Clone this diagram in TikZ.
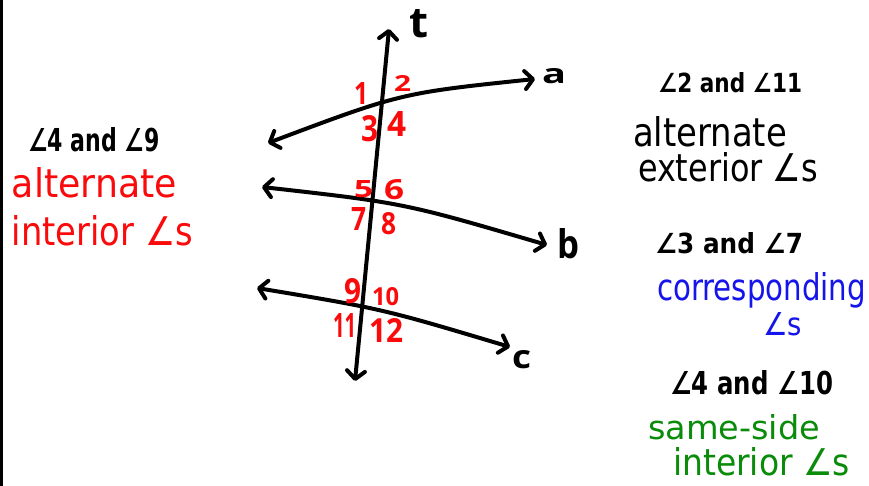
\documentclass[tikz,border=0pt]{standalone}
\usepackage{fontspec}
\setmainfont{DejaVu Sans}
\newfontfamily\digf{Open Sans}
\usepackage{graphicx}
\usetikzlibrary{arrows.meta}
\definecolor{penred}{RGB}{250,10,10}
\definecolor{penblue}{RGB}{20,20,235}
\definecolor{pengreen}{RGB}{10,140,10}
\newcommand\fitbox[3]{\resizebox{#1pt}{#2pt}{#3}}
\begin{document}
\begin{tikzpicture}[x=1pt,y=-1pt,
  ln/.style={line width=4pt, line cap=round, line join=round, black},
  dbl/.style={ln, {Straight Barb[length=8pt,width=18pt,round]}-{Straight Barb[length=8pt,width=18pt,round]}},
  txt/.style={inner sep=0pt, outer sep=0pt, anchor=base west},
  num/.style={txt, text=penred, font=\digf\bfseries},
  head/.style={txt, font=\bfseries},
  lbl/.style={txt, font=\digf\bfseries}]
\useasboundingbox (0,0) rectangle (869,486);
\fill[white] (0,0) rectangle (869,486);
\draw[line width=3pt] (1.5,0) -- (1.5,486);

% transversal and parallel lines
\coordinate (tB) at (355,381);
\coordinate (tT) at (389,29);
\coordinate (aL) at (268,143);
\coordinate (aR) at (535,79);
\coordinate (aK) at (401,93);
\coordinate (bL) at (262,187);
\coordinate (bR) at (547,245);
\coordinate (bK) at (404,203);
\coordinate (cL) at (257,288);
\coordinate (cR) at (510,347);
\coordinate (cK) at (383,309);
\draw[dbl] (tB) -- (tT);
\draw[dbl] (aL) .. controls (aK) .. (aR);
\draw[dbl] (bL) .. controls (bK) .. (bR);
\draw[dbl] (cL) .. controls (cK) .. (cR);

% line labels
\node[lbl] (lt) at (409,38) {\fitbox{19}{28}{t}};
\node[lbl] (la) at (542,84) {\fitbox{24}{15}{a}};
\node[lbl] (lb) at (557,258) {\fitbox{22}{30}{b}};
\node[lbl] (lc) at (512,368) {\fitbox{19}{18}{c}};

% angle numbers
\node[num] (n1) at (354,105) {\fitbox{14}{22}{1}};
\node[num] (n2) at (394,92) {\fitbox{17}{16}{2}};
\node[num] (n3) at (361,142) {\fitbox{17}{26}{3}};
\node[num] (n4) at (387,137) {\fitbox{19}{25}{4}};
\node[num] (n5) at (354,198) {\fitbox{19}{17}{5}};
\node[num] (n6) at (384,200) {\fitbox{20}{20}{6}};
\node[num] (n7) at (351,230) {\fitbox{15}{23}{7}};
\node[num] (n8) at (381,235) {\fitbox{15}{22}{8}};
\node[num] (n9) at (344,303) {\fitbox{17}{25}{9}};
\node[num] (n10) at (372,305) {\fitbox{27}{18}{10}};
\node[num] (n11) at (333,337) {\fitbox{23}{24}{11}};
\node[num] (n12) at (369,342) {\fitbox{34}{24}{12}};

% left text
\node[head] (h49) at (28,152) {\fitbox{132}{24}{∠4 and ∠9}};
\node[txt, text=penred] (ai1) at (12,198) {\fitbox{165}{30}{alternate}};
\node[txt, text=penred] (ai2) at (12,245) {\fitbox{181}{30}{interior ∠s}};

% right text
\node[head] (h211) at (658,93) {\fitbox{144}{20}{∠2 and ∠11}};
\node[txt] (ae1) at (633,147) {\fitbox{154}{30}{alternate}};
\node[txt] (ae2) at (638,182) {\fitbox{180}{29}{exterior ∠s}};
\node[head] (h37) at (655,253) {\fitbox{148}{21}{∠3 and ∠7}};
\node[txt, text=penblue] (co1) at (657,300) {\fitbox{209}{28}{corresponding}};
\node[txt, text=penblue] (co2) at (763,335) {\fitbox{39}{23}{∠s}};
\node[head] (h410) at (670,394) {\fitbox{163}{24}{∠4 and ∠10}};
\node[txt, text=pengreen] (ss1) at (648,439) {\fitbox{172}{25}{same-side}};
\node[txt, text=pengreen] (ss2) at (673,475) {\fitbox{177}{28}{interior ∠s}};
\end{tikzpicture}
\end{document}
